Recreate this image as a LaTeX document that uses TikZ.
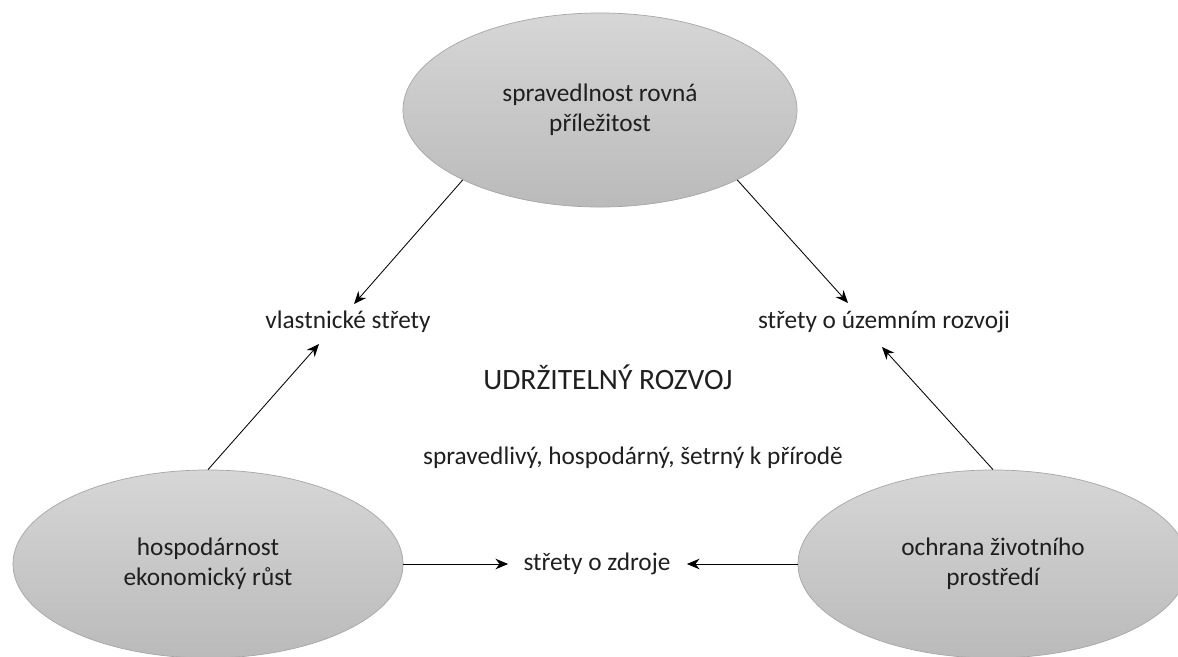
\documentclass[tikz,border=0pt]{standalone}
\usepackage{fontspec}
\setmainfont{Carlito}
\usepackage{tikz}
\usetikzlibrary{arrows.meta,shapes.geometric,calc}

\begin{document}
\begin{tikzpicture}[->,>={Stealth[length=9pt,width=7.5pt]},line width=0.6pt,
                    x=0.025cm,y=-0.025cm]
  \tikzstyle{every node}=[font=\fontsize{18}{21.5}\selectfont,text=black!88,inner sep=0pt]
  \tikzstyle{topic}=[ellipse,draw=black!35,line width=0.5pt,top color=black!16,
                     bottom color=black!27,align=center,minimum width=9.75cm,minimum height=4.7cm]
  \useasboundingbox (0,0) rectangle (1178,657);
\node [topic,minimum width=9.85cm,minimum height=4.85cm] (rovnost) at (600,110) {spravedlnost rovná\\příležitost};
\node [topic] (hosp) at (208,564) {hospodárnost\\ekonomický růst};
\node [topic] (ochrana) at (993,564) {ochrana životního\\prostředí};
\node (vlast) at (348,322) {vlastnické střety};
\node (uzemi) at (884,322) {střety o územním rozvoji};
\node [font=\fontsize{21}{25}\selectfont] (udrz) at (608,377) {UDRŽITELNÝ ROZVOJ};
\node (sprav) at (633,458) {spravedlivý, hospodárný, šetrný k přírodě};
\node (zdroje) at (597,564) {střety o zdroje};

\path (rovnost.207) edge ($(vlast)+(6,-18)$)
      (rovnost.333) edge ($(uzemi)+(-36,-19)$)
      (hosp.north) edge ($(vlast)+(-29,22)$)
      (ochrana.north) edge ($(uzemi)+(-2,25)$)
      (hosp.east) edge [shorten >=0.375cm] (zdroje.west)
      (ochrana.west) edge [shorten >=0.4cm] (zdroje.east);

\end{tikzpicture}
\end{document}
